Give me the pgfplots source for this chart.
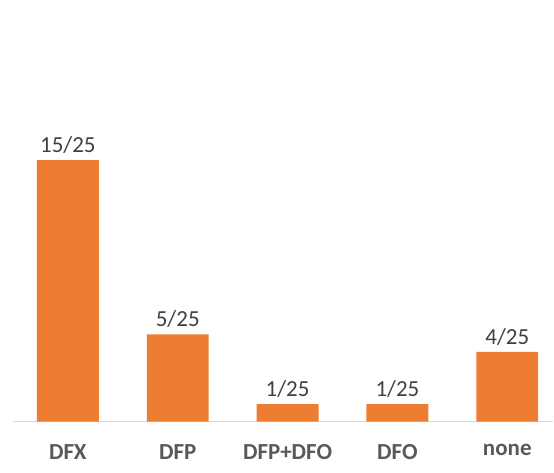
\documentclass[border=0pt]{standalone}
\usepackage{fontspec}
\setmainfont{Carlito}
\usepackage{pgfplots}
\pgfplotsset{compat=1.18}
\definecolor{barorange}{HTML}{ED7D31}
\definecolor{labelgray}{HTML}{404040}
\definecolor{tickgray}{HTML}{595959}
\definecolor{basegray}{HTML}{D9D9D9}

\begin{document}
\begin{tikzpicture}
\path (0pt,0pt) rectangle (554pt,473pt);
\begin{axis}[
    at={(13pt,51pt)}, anchor=south west,
    scale only axis,
    width=541pt, height=422pt,
    xmin=-0.5, xmax=4.42,
    ymin=0, ymax=24.18,
    ybar, bar width=62pt,
    hide y axis,
    axis x line*=bottom,
    x axis line style={draw=basegray, line width=1.2pt, -},
    xtick=data,
    xticklabels={DFX, DFP, DFP+DFO, DFO, none},
    xtick style={draw=none},
    xticklabel style={font=\fontsize{23}{23}\selectfont\bfseries, text=tickgray, yshift=-15pt},
    nodes near coords,
    point meta=explicit symbolic,
    every node near coord/.append style={font=\fontsize{23}{23}\selectfont, text=labelgray, yshift=3pt},
    clip=false,
]
\addplot[fill=barorange, draw=none] coordinates {
    (0,15) [15/25]
    (1,5) [5/25]
    (2,1) [1/25]
    (3,1) [1/25]
    (4,4) [4/25]
};
\end{axis}
\end{tikzpicture}
\end{document}
